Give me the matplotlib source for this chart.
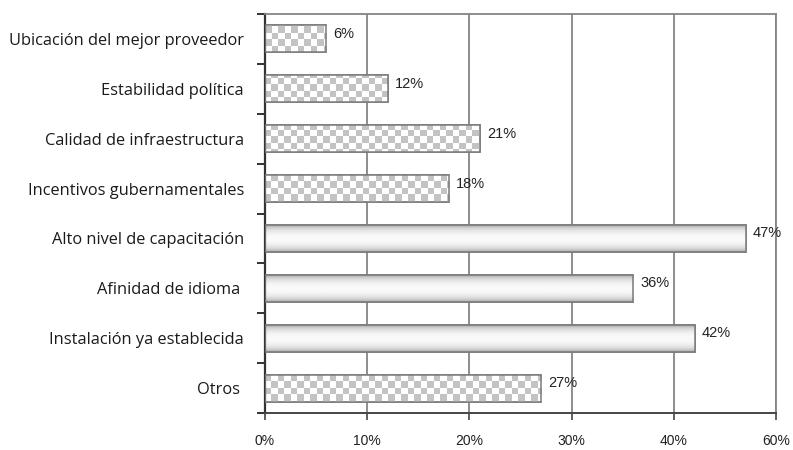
import matplotlib
matplotlib.use("Agg")
import matplotlib.pyplot as plt
import numpy as np

categories = [
    "Ubicación del mejor proveedor",
    "Estabilidad política",
    "Calidad de infraestructura",
    "Incentivos gubernamentales",
    "Alto nivel de capacitación",
    "Afinidad de idioma ",
    "Instalación ya establecida",
    "Otros ",
]
values = [6, 12, 21, 18, 47, 36, 42, 27]
checkered = [True, True, True, True, False, False, False, True]
xtick_values = [0, 10, 20, 30, 40, 50]
xtick_labels = ["0%", "10%", "20%", "30%", "40%", "60%"]

fig = plt.figure(figsize=(7.93, 4.5), dpi=100)
ax = fig.add_axes([0.334, 0.082, 0.645, 0.887])

bar_h = 0.54
grid_color = "#858585"
edge_color = "#7a7a7a"

for x in xtick_values[1:]:
    ax.axvline(x, color=grid_color, lw=1.3, zorder=1)

# checker texture (about 6.5 px squares) and cylinder-like gradient
n_cols, n_rows = 79, 62
checker = (np.add.outer(np.arange(n_rows), np.arange(n_cols)) % 2).astype(float)
t = np.linspace(-1, 1, 40)
gradient = (0.62 + 0.36 * (1 - t ** 2) ** 0.6)[:, None]

ys = np.arange(len(categories))
bars = ax.barh(ys, values, height=bar_h, color="white", edgecolor=edge_color,
               linewidth=1.1, zorder=2)
for bar, y, v, chk in zip(bars, ys, values, checkered):
    if chk:
        im = ax.imshow(checker, extent=[0, 50, 7.5, -0.5], cmap="gray",
                       vmin=-3.2, vmax=1.0, aspect="auto",
                       interpolation="nearest", zorder=2.5)
    else:
        im = ax.imshow(gradient, extent=[0, v, y + bar_h / 2, y - bar_h / 2],
                       cmap="gray", vmin=0, vmax=1, aspect="auto",
                       interpolation="bilinear", zorder=2.5)
    im.set_clip_path(bar)
    ax.barh(y, v, height=bar_h, color="none", edgecolor=edge_color,
            linewidth=1.1, zorder=3)
    ax.text(v + 0.7, y - 0.1, f"{v}%", va="center", ha="left",
            fontsize=10.5, family="Liberation Sans", color="#222222", zorder=4)

ax.set_xlim(0, 50)
ax.set_ylim(7.5, -0.5)

ax.set_xticks(xtick_values)
ax.set_xticklabels(xtick_labels, family="Liberation Sans", fontsize=10,
                   color="#222222")
ax.tick_params(axis="x", direction="out", length=5, width=1.2,
               color="#444444", pad=10)

ax.set_yticks(np.arange(-0.5, 8, 1))
ax.set_yticklabels([])
ax.tick_params(axis="y", which="major", direction="out", length=6, width=1.4,
               color="#333333")
ax.set_yticks(ys, minor=True)
ax.set_yticklabels(categories, minor=True, family="Open Sans", fontsize=11.8,
                   color="#1a1a1a")
ax.tick_params(axis="y", which="minor", length=0, pad=15)

for side in ["top", "right"]:
    ax.spines[side].set_color(grid_color)
    ax.spines[side].set_linewidth(1.3)
ax.spines["left"].set_color("#333333")
ax.spines["left"].set_linewidth(1.6)
ax.spines["bottom"].set_color("#444444")
ax.spines["bottom"].set_linewidth(1.4)

fig.savefig("out.png", dpi=100, facecolor="white")
